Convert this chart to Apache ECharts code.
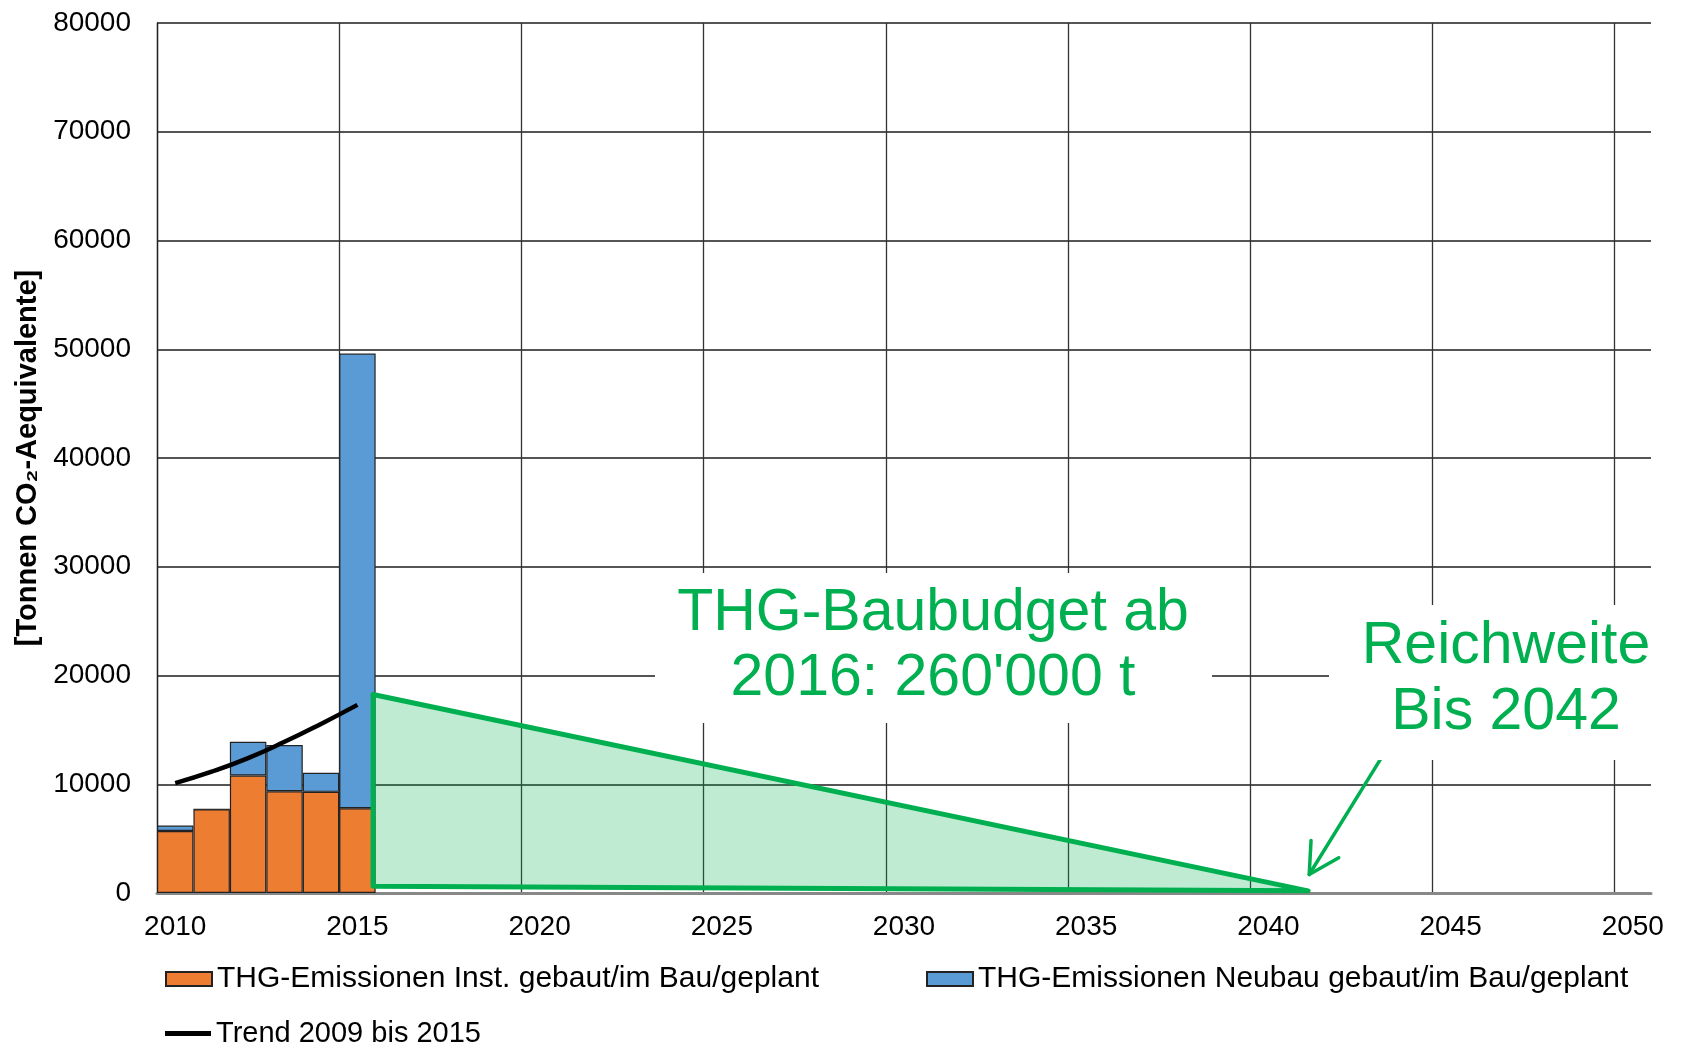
<!DOCTYPE html>
<html>
<head>
<meta charset="utf-8">
<script src="https://cdn.jsdelivr.net/npm/echarts@6/dist/echarts.min.js"></script>
<style>
  html, body { margin: 0; padding: 0; background: #fff; }
  #main { width: 1681px; height: 1044px; }
</style>
</head>
<body>
<div id="main"></div>
<script>
// Jahre 2010 bis 2050
const years = [];
for (let y = 2010; y <= 2050; y++) years.push(String(y));

// THG-Emissionen (t CO2-eq)
const instValues = [5700, 7700, 10800, 9350, 9300, 7800];
const neubauValues = [500, 0, 3100, 4250, 1750, 41800];
const trendValues = [10100, 11150, 12400, 13900, 15550, 17300];

// Baubudget-Dreieck (Jahr, Tonnen)
const budgetX = [2015.43, 2015.43, 2041.09];
const budgetY = [610, 18250, 200];

// Pfeil zu "Reichweite Bis 2042"
const arrowX = [2043.07, 2041.12];
const arrowY = [12260, 1700];

const yTicks = [0, 10000, 20000, 30000, 40000, 50000, 60000, 70000, 80000];

const nameInst = 'THG-Emissionen Inst. gebaut/im Bau/geplant';
const nameNeubau = 'THG-Emissionen Neubau gebaut/im Bau/geplant';
const nameTrend = 'Trend 2009 bis 2015';

const font = 'Liberation Sans, Arial, sans-serif';
const green = '#00B050';

const chart = echarts.init(document.getElementById('main'), null, { renderer: 'canvas' });

// vertikale Gitterlinien: letzte (rechter Rand) ausblenden
const vColors = [];
for (let i = 0; i < 9; i++) vColors.push('#333');
vColors.push('rgba(0,0,0,0)');

const option = {
  animation: false,
  backgroundColor: '#fff',
  textStyle: { fontFamily: font },
  grid: {
    left: 157, right: 30, top: 23, bottom: 151,
    containLabel: false, outerBoundsMode: 'none'
  },
  legend: [
    {
      data: [{ name: nameInst, icon: 'rect' }], left: 160, top: 959,
      itemWidth: 46, itemHeight: 14,
      textStyle: { fontSize: 30, color: '#000', fontFamily: font }
    },
    {
      data: [{ name: nameNeubau, icon: 'rect' }], left: 921, top: 959,
      itemWidth: 46, itemHeight: 14,
      textStyle: { fontSize: 30, color: '#000', fontFamily: font }
    },
    {
      data: [{ name: nameTrend, icon: 'rect' }], left: 160, top: 1014,
      itemWidth: 46, itemHeight: 5,
      textStyle: { fontSize: 29, color: '#000', fontFamily: font }
    }
  ],
  xAxis: [
    {
      type: 'category',
      data: years,
      boundaryGap: true,
      axisLine: { show: true, lineStyle: { color: '#888', width: 3 } },
      axisTick: { show: false, interval: 4 },
      axisLabel: { interval: 4, fontSize: 28, color: '#000', margin: 20, fontFamily: font },
      splitLine: { show: true, interval: 4, lineStyle: { color: vColors, width: 1.3 } }
    },
    {
      // unsichtbare Jahresachse fuer die Annotationen
      type: 'value', show: false,
      min: 2009.5, max: 2050.5,
      splitLine: { show: false }
    }
  ],
  yAxis: {
    type: 'value',
    min: 0, max: 80000, interval: 10000,
    name: '[Tonnen CO₂-Aequivalente]',
    nameLocation: 'middle',
    nameRotate: 90,
    nameGap: 114,
    nameTextStyle: { fontSize: 29, fontWeight: 'bold', color: '#000', fontFamily: font },
    axisLine: { show: true, lineStyle: { color: '#222', width: 1.3 } },
    axisTick: { show: false },
    axisLabel: {
      fontSize: 28, color: '#000', margin: 26, fontFamily: font,
      formatter: function (v) { return yTicks.indexOf(v) >= 0 ? String(v) : ''; }
    },
    splitLine: { show: true, lineStyle: { color: '#555', width: 2 } }
  },
  series: [
    {
      name: nameInst,
      type: 'bar',
      stack: 'thg',
      barCategoryGap: '0%',
      data: instValues,
      itemStyle: { color: '#ED7D31', borderColor: '#222', borderWidth: 1.2 }
    },
    {
      name: nameNeubau,
      type: 'bar',
      stack: 'thg',
      barCategoryGap: '0%',
      data: neubauValues,
      itemStyle: { color: '#5B9BD5', borderColor: '#222', borderWidth: 1.2 }
    },
    {
      name: nameTrend,
      type: 'line',
      smooth: true,
      showSymbol: false,
      symbol: 'none',
      data: trendValues,
      z: 4,
      color: '#000',
      lineStyle: { color: '#000', width: 4.5 }
    },
    {
      // THG-Baubudget ab 2016
      type: 'custom',
      xAxisIndex: 1,
      yAxisIndex: 0,
      z: 5,
      silent: true,
      data: budgetX.map(function (x, i) { return [x, budgetY[i]]; }),
      renderItem: function (params, api) {
        if (params.dataIndex !== 0) return;
        const pts = budgetX.map(function (x, i) { return api.coord([x, budgetY[i]]); });
        return {
          type: 'polygon',
          shape: { points: pts },
          style: { fill: 'rgba(0,176,80,0.25)', stroke: green, lineWidth: 5, lineJoin: 'round' }
        };
      }
    },
    {
      // Pfeil
      type: 'custom',
      xAxisIndex: 1,
      yAxisIndex: 0,
      z: 6,
      silent: true,
      data: arrowX.map(function (x, i) { return [x, arrowY[i]]; }),
      renderItem: function (params, api) {
        if (params.dataIndex !== 0) return;
        const p0 = api.coord([arrowX[0], arrowY[0]]);
        const p1 = api.coord([arrowX[1], arrowY[1]]);
        const ang = Math.atan2(p1[1] - p0[1], p1[0] - p0[0]);
        const len = 34, spread = 0.5;
        const h1 = [p1[0] - len * Math.cos(ang - spread), p1[1] - len * Math.sin(ang - spread)];
        const h2 = [p1[0] - len * Math.cos(ang + spread), p1[1] - len * Math.sin(ang + spread)];
        const st = { stroke: green, lineWidth: 3.5, fill: null, lineCap: 'round', lineJoin: 'round' };
        return {
          type: 'group',
          children: [
            { type: 'polyline', shape: { points: [p0, p1] }, style: st },
            { type: 'polyline', shape: { points: [h1, p1, h2] }, style: st }
          ]
        };
      }
    }
  ],
  graphic: [
    { type: 'rect', z: 50, shape: { x: 655, y: 573, width: 557, height: 150 }, style: { fill: '#fff' } },
    {
      type: 'text', z: 51, x: 933, y: 646,
      style: {
        text: 'THG-Baubudget ab\n2016: 260\'000 t',
        fill: green, font: '59px ' + font, lineHeight: 65,
        align: 'center', verticalAlign: 'middle'
      }
    },
    { type: 'rect', z: 50, shape: { x: 1329, y: 605, width: 352, height: 155 }, style: { fill: '#fff' } },
    {
      type: 'text', z: 51, x: 1506, y: 680,
      style: {
        text: 'Reichweite\nBis 2042',
        fill: green, font: '59px ' + font, lineHeight: 66,
        align: 'center', verticalAlign: 'middle'
      }
    }
  ]
};

chart.setOption(option);
</script>
</body>
</html>
